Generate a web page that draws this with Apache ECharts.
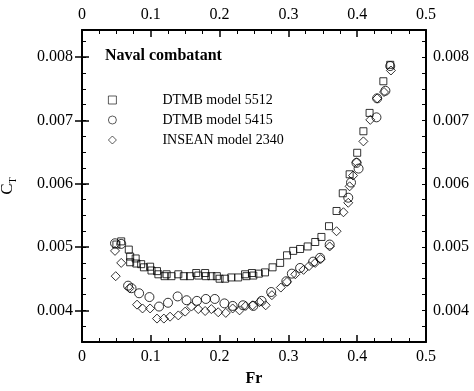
<!DOCTYPE html>
<html>
<head>
<meta charset="utf-8">
<script src="https://cdn.jsdelivr.net/npm/echarts@6/dist/echarts.min.js"></script>
<style>
html,body{margin:0;padding:0;background:#fff;}
#chart{width:474px;height:391px;}
</style>
</head>
<body>
<div id="chart"></div>
<script>
// ---- data ----
var seriesNames = ['DTMB model 5512', 'DTMB model 5415', 'INSEAN model 2340'];
var xTickLabels = ['0', '0.1', '0.2', '0.3', '0.4', '0.5'];
var yTickValues = [0.004, 0.005, 0.006, 0.007, 0.008];

var fr5512 = [0.050,0.057,0.068,0.070,0.070,0.078,0.079,0.086,0.090,0.099,0.101,0.109,0.111,0.120,0.123,0.130,0.140,0.148,0.157,0.166,0.169,0.179,0.180,0.188,0.196,0.200,0.208,0.217,0.227,0.237,0.239,0.247,0.249,0.257,0.266,0.277,0.288,0.298,0.307,0.317,0.328,0.339,0.348,0.359,0.370,0.379,0.389,0.400,0.409,0.418,0.438,0.448];
var ct5512 = [0.00504,0.00509,0.00496,0.00485,0.00476,0.00482,0.00474,0.00473,0.00468,0.00469,0.00463,0.00462,0.00457,0.00454,0.00457,0.00454,0.00457,0.00454,0.00454,0.00459,0.00455,0.00459,0.00454,0.00454,0.00454,0.00450,0.00450,0.00452,0.00452,0.00457,0.00454,0.00459,0.00455,0.00458,0.00460,0.00468,0.00475,0.00487,0.00494,0.00497,0.00501,0.00508,0.00516,0.00533,0.00557,0.00585,0.00615,0.00649,0.00683,0.00712,0.00762,0.00788];

var fr5415 = [0.048,0.057,0.067,0.072,0.083,0.098,0.112,0.125,0.139,0.152,0.167,0.180,0.193,0.207,0.219,0.234,0.249,0.261,0.275,0.297,0.305,0.317,0.336,0.346,0.360,0.387,0.391,0.399,0.402,0.428,0.429,0.441,0.448];
var ct5415 = [0.00506,0.00505,0.00439,0.00435,0.00427,0.00421,0.00406,0.00412,0.00422,0.00416,0.00415,0.00418,0.00418,0.00411,0.00407,0.00408,0.00407,0.00415,0.00429,0.00446,0.00458,0.00467,0.00477,0.00483,0.00504,0.00578,0.00602,0.00633,0.00624,0.00705,0.00735,0.00747,0.00786];

var fr2340 = [0.048,0.057,0.049,0.069,0.080,0.088,0.099,0.109,0.119,0.128,0.140,0.150,0.159,0.169,0.179,0.188,0.198,0.209,0.219,0.229,0.238,0.248,0.258,0.267,0.276,0.289,0.298,0.310,0.322,0.330,0.339,0.347,0.360,0.370,0.380,0.387,0.389,0.394,0.399,0.409,0.419,0.429,0.439,0.449];
var ct2340 = [0.00494,0.00475,0.00454,0.00435,0.00409,0.00403,0.00403,0.00387,0.00387,0.00390,0.00392,0.00398,0.00406,0.00402,0.00399,0.00402,0.00397,0.00396,0.00403,0.00400,0.00407,0.00408,0.00413,0.00408,0.00424,0.00436,0.00445,0.00457,0.00464,0.00470,0.00475,0.00481,0.00501,0.00525,0.00555,0.00570,0.00596,0.00613,0.00634,0.00667,0.00701,0.00735,0.00745,0.00779];

function pairs(xs, ys) { return xs.map(function (x, i) { return [x, ys[i]]; }); }

var FONT = 'Liberation Serif';
var BLACK = '#000';

function xAxisDef(pos, withName) {
  var a = {
    type: 'value', position: pos, min: 0, max: 0.5, interval: 0.1,
    axisLine: { show: true, onZero: false, lineStyle: { color: BLACK, width: 2 } },
    axisTick: { show: true, inside: true, length: 7, lineStyle: { color: BLACK, width: 1.5 } },
    minorTick: { show: true, splitNumber: 4, length: 4, lineStyle: { color: BLACK, width: 1 } },
    axisLabel: { margin: 7, color: BLACK, fontFamily: FONT, fontSize: 16,
      formatter: function (v) { return xTickLabels[Math.round(v * 10)]; } },
    splitLine: { show: false }
  };
  if (withName) {
    a.name = 'Fr'; a.nameLocation = 'middle'; a.nameGap = 29;
    a.nameTextStyle = { color: BLACK, fontFamily: FONT, fontSize: 16, fontWeight: 'bold' };
  }
  return a;
}
function yAxisMinor(pos, withName) {
  var a = {
    type: 'value', position: pos, min: 0.0035, max: 0.00843, interval: 0.00025,
    axisLine: { show: true, onZero: false, lineStyle: { color: BLACK, width: 2 } },
    axisTick: { show: true, inside: true, length: 4, lineStyle: { color: BLACK, width: 1 } },
    axisLabel: { show: true, customValues: yTickValues, margin: pos === 'left' ? 9 : 7,
      color: BLACK, fontFamily: FONT, fontSize: 16 },
    splitLine: { show: false }
  };
  if (withName) {
    a.name = '{c|C}{t|T}'; a.nameLocation = 'middle'; a.nameGap = 64; a.nameRotate = 90;
    a.nameTextStyle = { color: BLACK, fontFamily: FONT,
      rich: { c: { fontSize: 17, fontFamily: FONT, color: BLACK, lineHeight: 20 },
              t: { fontSize: 10, fontFamily: FONT, color: BLACK, verticalAlign: 'bottom', lineHeight: 20 } } };
  }
  return a;
}
function yAxisMajor(pos) {
  return {
    type: 'value', position: pos, min: 0.0035, max: 0.00843, interval: 0.00025,
    axisLine: { show: false },
    axisTick: { show: true, inside: true, length: 7, customValues: yTickValues, lineStyle: { color: BLACK, width: 1.5 } },
    axisLabel: { show: false },
    splitLine: { show: false }
  };
}

var hollow = { color: 'rgba(0,0,0,0)', borderColor: BLACK, borderWidth: 1 };
var diamond = 'path://M0,-1L1,0L0,1L-1,0Z';

var option = {
  animation: false,
  backgroundColor: '#fff',
  title: {
    text: 'Naval combatant', left: 105, top: 48, padding: 0,
    textStyle: { color: BLACK, fontFamily: FONT, fontSize: 16, fontWeight: 'bold' }
  },
  legend: {
    orient: 'vertical', left: 108, top: 93, padding: 0,
    itemWidth: 8, itemHeight: 8, itemGap: 6,
    data: seriesNames,
    itemStyle: { color: 'rgba(0,0,0,0)', borderColor: BLACK, borderWidth: 0.8 },
    textStyle: { color: BLACK, fontFamily: FONT, fontSize: 14, padding: [0, 0, 0, 41] },
    selectedMode: false
  },
  grid: { left: 82, right: 48, top: 30, bottom: 49, containLabel: false, outerBoundsMode: 'none' },
  xAxis: [xAxisDef('bottom', true), xAxisDef('top', false)],
  yAxis: [yAxisMinor('left', true), yAxisMinor('right', false), yAxisMajor('left'), yAxisMajor('right')],
  series: [
    { name: seriesNames[0], type: 'scatter', symbol: 'rect', symbolSize: 7,
      itemStyle: hollow, emphasis: { disabled: true }, data: pairs(fr5512, ct5512) },
    { name: seriesNames[1], type: 'scatter', symbol: 'circle', symbolSize: 9,
      itemStyle: hollow, emphasis: { disabled: true }, data: pairs(fr5415, ct5415) },
    { name: seriesNames[2], type: 'scatter', symbol: diamond, symbolSize: 9,
      itemStyle: hollow, emphasis: { disabled: true }, data: pairs(fr2340, ct2340) }
  ]
};

var chart = echarts.init(document.getElementById('chart'), null, { renderer: 'canvas' });
chart.setOption(option);
</script>
</body>
</html>
